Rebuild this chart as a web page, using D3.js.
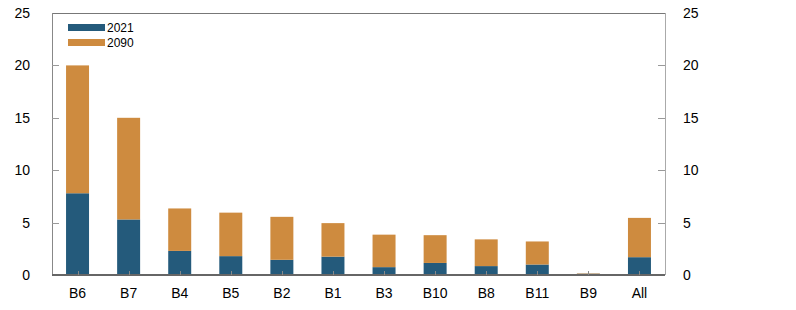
<!DOCTYPE html>
<html>
<head>
<meta charset="utf-8">
<script src="https://d3js.org/d3.v7.min.js"></script>
<style>
  body { margin: 0; background: #fff; }
  text { font-family: "Liberation Sans", Arial, sans-serif; fill: #000; }
</style>
</head>
<body>
<div id="chart"></div>
<script>
// chart data
var categories = ["B6", "B7", "B4", "B5", "B2", "B1", "B3", "B10", "B8", "B11", "B9", "All"];
var values2021 = [7.8, 5.3, 2.3, 1.8, 1.45, 1.75, 0.75, 1.15, 0.85, 1.0, 0.12, 1.7];
var values2090 = [12.2, 9.7, 4.05, 4.15, 4.1, 3.2, 3.1, 2.65, 2.55, 2.2, 0.04, 3.75];
var seriesNames = ["2021", "2090"];
var yTicks = [0, 5, 10, 15, 20, 25];

var colors = {"2021": "#245a7b", "2090": "#ce8b3f"};

var width = 796, height = 310;
var plotLeft = 52, plotRight = 665, plotTop = 13, plotBottom = 275;

var svg = d3.select("#chart").append("svg")
    .attr("width", width)
    .attr("height", height);

var x = d3.scaleBand()
    .domain(categories)
    .range([plotLeft, plotRight])
    .paddingInner(0.55)
    .paddingOuter(0.275);

var y = d3.scaleLinear()
    .domain([0, 25])
    .range([plotBottom, plotTop]);

// stack the two series
var rows = categories.map(function(c, i) {
    return {cat: c, "2021": values2021[i], "2090": values2090[i]};
});
var stacked = d3.stack().keys(seriesNames)(rows);

// frame: top line + both side axes
svg.append("line")
    .attr("x1", plotLeft).attr("x2", plotRight)
    .attr("y1", plotTop + 0.5).attr("y2", plotTop + 0.5)
    .attr("stroke", "#777").attr("stroke-width", 1);
svg.append("line")
    .attr("x1", plotLeft + 0.5).attr("x2", plotLeft + 0.5)
    .attr("y1", plotTop).attr("y2", plotBottom)
    .attr("stroke", "#888").attr("stroke-width", 1);
svg.append("line")
    .attr("x1", plotRight + 0.5).attr("x2", plotRight + 0.5)
    .attr("y1", plotTop).attr("y2", plotBottom)
    .attr("stroke", "#aaa").attr("stroke-width", 1);

// y ticks (inward) and labels on both sides
svg.selectAll(".ltick").data(yTicks.slice(1, -1)).enter().append("line")
    .attr("x1", plotLeft).attr("x2", plotLeft + 7)
    .attr("y1", function(d) { return Math.round(y(d)) + 0.5; })
    .attr("y2", function(d) { return Math.round(y(d)) + 0.5; })
    .attr("stroke", "#999");
svg.selectAll(".rtick").data(yTicks.slice(1, -1)).enter().append("line")
    .attr("x1", plotRight - 7).attr("x2", plotRight)
    .attr("y1", function(d) { return Math.round(y(d)) + 0.5; })
    .attr("y2", function(d) { return Math.round(y(d)) + 0.5; })
    .attr("stroke", "#999");

svg.selectAll(".llab").data(yTicks).enter().append("text")
    .attr("x", 30)
    .attr("y", function(d) { return y(d); })
    .attr("dy", "0.35em")
    .attr("text-anchor", "end")
    .style("font-size", "14px")
    .text(function(d) { return d; });
svg.selectAll(".rlab").data(yTicks).enter().append("text")
    .attr("x", 683)
    .attr("y", function(d) { return y(d); })
    .attr("dy", "0.35em")
    .attr("text-anchor", "start")
    .style("font-size", "14px")
    .text(function(d) { return d; });

// bars
svg.selectAll(".series").data(stacked).enter().append("g")
    .attr("fill", function(d) { return colors[d.key]; })
  .selectAll("rect").data(function(d) { return d; }).enter().append("rect")
    .attr("x", function(d) { return x(d.data.cat); })
    .attr("width", x.bandwidth())
    .attr("y", function(d) { return y(d[1]); })
    .attr("height", function(d) { return y(d[0]) - y(d[1]); });

// x axis line with small ticks at category centres
svg.append("line")
    .attr("x1", plotLeft).attr("x2", plotRight)
    .attr("y1", plotBottom).attr("y2", plotBottom)
    .attr("stroke", "#666").attr("stroke-width", 2);
svg.selectAll(".xtick").data(categories).enter().append("line")
    .attr("x1", function(d) { return Math.round(x(d) + x.bandwidth() / 2) + 0.5; })
    .attr("x2", function(d) { return Math.round(x(d) + x.bandwidth() / 2) + 0.5; })
    .attr("y1", plotBottom - 4).attr("y2", plotBottom)
    .attr("stroke", "#888");

svg.selectAll(".xlab").data(categories).enter().append("text")
    .attr("x", function(d) { return x(d) + x.bandwidth() / 2; })
    .attr("y", 298)
    .attr("text-anchor", "middle")
    .style("font-size", "14px")
    .text(function(d) { return d; });

// legend
var legend = svg.selectAll(".leg").data(seriesNames).enter().append("g")
    .attr("transform", function(d, i) { return "translate(68," + (28 + i * 15) + ")"; });
legend.append("rect")
    .attr("x", 0).attr("y", -4)
    .attr("width", 37).attr("height", 7)
    .attr("fill", function(d) { return colors[d]; });
legend.append("text")
    .attr("x", 39).attr("y", 0)
    .attr("dy", "0.35em")
    .style("font-size", "12px")
    .text(function(d) { return d; });
</script>
</body>
</html>
